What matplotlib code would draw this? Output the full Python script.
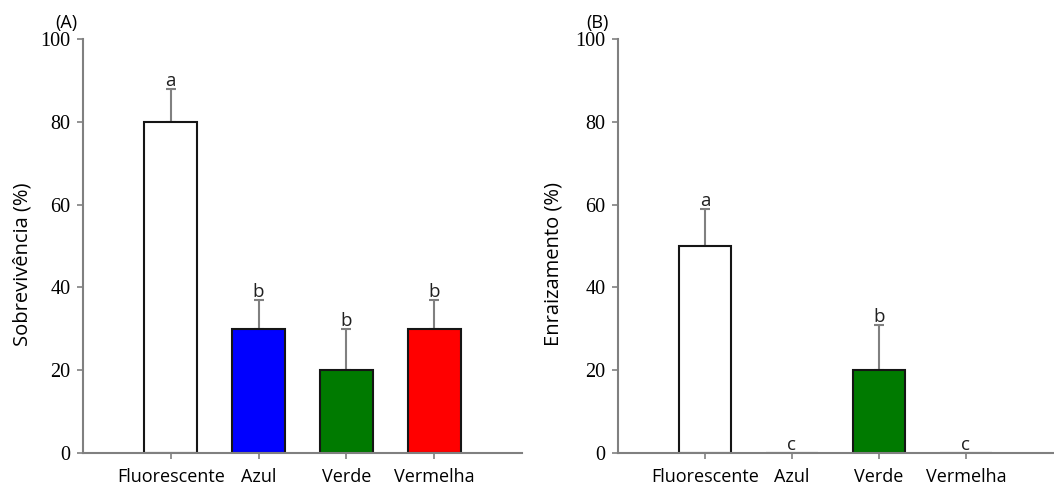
import numpy as np
import matplotlib.pyplot as plt

tratamentos = ['Fluorescente', 'Azul', 'Verde', 'Vermelha']
cores = ['white', '#0000FF', '#007A00', '#FF0000']

sobrev = [80, 30, 20, 30]
sobrev_erro = [8, 7, 10, 7]
sobrev_letras = ['a', 'b', 'b', 'b']

enraiz = [50, 0, 20, 0]
enraiz_erro = [9, 0, 11, 0]
enraiz_letras = ['a', 'c', 'b', 'c']

sans = ['Open Sans', 'DejaVu Sans']
serif = 'Liberation Serif'
cinza = '#808080'

fig = plt.figure(figsize=(10.54, 4.88), dpi=100)
ax1 = fig.add_axes([83/1054, 35/488, 439/1054, 414/488])
ax2 = fig.add_axes([618/1054, 35/488, 435/1054, 414/488])


def painel(ax, vals, erros, letras, ylabel, tag, tag_x, label_x):
    x = np.arange(len(tratamentos))
    ax.bar(x, vals, width=0.6, color=cores, edgecolor='#151515', linewidth=1.5, zorder=2)
    for xi, v, e in zip(x, vals, erros):
        if e > 0:
            ax.errorbar(xi, v, yerr=[[0], [e]], fmt='none', ecolor=cinza,
                        elinewidth=1.5, capsize=3.5, capthick=1.5, zorder=1)
    for xi, v, e, l in zip(x, vals, erros, letras):
        ax.text(xi, v + e - 0.3, l, ha='center', va='bottom', fontsize=13.5,
                family=sans, color='#202020')
    ax.set_xlim(-1.0, 4.0)
    ax.set_ylim(0, 100)
    ax.set_yticks([0, 20, 40, 60, 80, 100])
    ax.set_xticks(x)
    ax.set_xticklabels(tratamentos, family=sans, fontsize=13)
    for lab in ax.get_yticklabels():
        lab.set_family(serif)
        lab.set_fontsize(14.5)
    ax.spines['top'].set_visible(False)
    ax.spines['right'].set_visible(False)
    for s in ['left', 'bottom']:
        ax.spines[s].set_color(cinza)
        ax.spines[s].set_linewidth(1.5)
    ax.tick_params(axis='both', direction='out', length=4, width=1.2, color=cinza)
    ax.tick_params(axis='y', pad=5)
    ax.tick_params(axis='x', pad=7)
    ax.set_ylabel(ylabel, family=sans, fontsize=14.5)
    ax.yaxis.set_label_coords(label_x, 0.457)
    ax.text(tag_x, 1.018, tag, transform=ax.transAxes, ha='center', va='bottom',
            family=sans, fontsize=13)


painel(ax1, sobrev, sobrev_erro, sobrev_letras, 'Sobrevivência (%)', '(A)', -0.039, -0.116)
painel(ax2, enraiz, enraiz_erro, enraiz_letras, 'Enraizamento (%)', '(B)', -0.048, -0.126)

fig.savefig('out.png', dpi=100)
